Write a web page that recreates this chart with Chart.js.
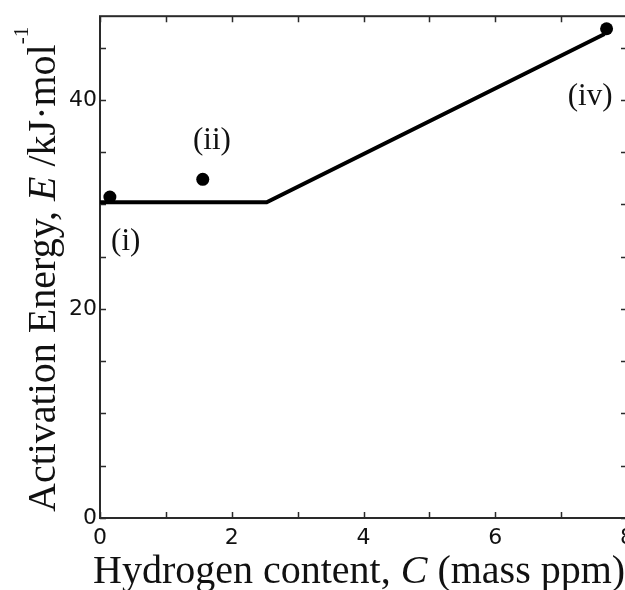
<!DOCTYPE html>
<html>
<head>
<meta charset="utf-8">
<script src="https://cdn.jsdelivr.net/npm/chart.js@4/dist/chart.umd.min.js"></script>
<style>
  html, body { margin: 0; padding: 0; background: #fff; overflow: hidden; }
  #wrap { position: relative; width: 645px; height: 590px; }
</style>
</head>
<body>
<div id="wrap"><canvas id="c"></canvas></div>
<script>
// Measured samples
const hydrogenContent = [0.15, 1.56, 7.69];      // C, mass ppm
const activationEnergy = [30.7, 32.4, 46.8];     // E, kJ/mol
const sampleNames = ['(i)', '(ii)', '(iv)'];
const nameAtC = [0.39, 1.70, 7.44];
const nameAtE = [26.4, 36.1, 40.3];

// Piecewise trend line
const trendContent = [0, 2.53, 7.66];
const trendEnergy = [30.2, 30.2, 46.3];

// Axis ranges and labelled ticks
const xRange = [0, 8];
const yRange = [0, 48];
const xLabelled = [0, 2, 4, 6, 8];
const yLabelled = [0, 20, 40];

const SERIF = '"Liberation Serif", "Times New Roman", serif';
const SANS = '"DejaVu Sans", Arial, sans-serif';

const toPoints = (xs, ys) => xs.map((v, i) => ({ x: v, y: ys[i] }));

// Frame on all four sides with inward ticks
const framePlugin = {
  id: 'frame',
  beforeDatasetsDraw(chart) {
    const { ctx, chartArea: a, scales: { x, y } } = chart;
    ctx.save();
    ctx.strokeStyle = '#2a2a2a';
    ctx.lineWidth = 2;
    ctx.strokeRect(a.left, a.top, a.right - a.left, a.bottom - a.top);
    ctx.lineWidth = 1.5;
    ctx.beginPath();
    x.ticks.forEach(t => {
      if (!Number.isInteger(t.value)) return;
      const px = Math.round(x.getPixelForValue(t.value)) + 0.5;
      ctx.moveTo(px, a.bottom); ctx.lineTo(px, a.bottom - 6);
      ctx.moveTo(px, a.top); ctx.lineTo(px, a.top + 6);
    });
    y.ticks.forEach(t => {
      if (t.value % 5 !== 0) return;
      const py = Math.round(y.getPixelForValue(t.value)) + 0.5;
      ctx.moveTo(a.left, py); ctx.lineTo(a.left + 6, py);
      ctx.moveTo(a.right, py); ctx.lineTo(a.right - 6, py);
    });
    ctx.stroke();
    ctx.restore();
  }
};

// Sample names and axis titles with mixed italic / superscript text
const textPlugin = {
  id: 'texts',
  afterDraw(chart) {
    const { ctx, scales: { x, y } } = chart;
    ctx.save();
    ctx.fillStyle = '#111';

    ctx.font = '31px ' + SERIF;
    ctx.textAlign = 'center';
    ctx.textBaseline = 'middle';
    sampleNames.forEach((s, i) => {
      ctx.fillText(s, x.getPixelForValue(nameAtC[i]), y.getPixelForValue(nameAtE[i]));
    });

    ctx.textAlign = 'left';
    ctx.textBaseline = 'alphabetic';
    const drawRuns = (runs, x0, y0) => {
      let cx = x0;
      runs.forEach(r => {
        ctx.font = r.font;
        ctx.fillText(r.text, cx, y0 - (r.rise || 0));
        cx += ctx.measureText(r.text).width;
      });
    };

    // x-axis title
    drawRuns([
      { text: 'Hydrogen content, ', font: '40px ' + SERIF },
      { text: 'C', font: 'italic 40px ' + SERIF },
      { text: ' (mass ppm)', font: '40px ' + SERIF }
    ], 93, 583);

    // y-axis title (rotated)
    ctx.translate(55, 512);
    ctx.rotate(-Math.PI / 2);
    drawRuns([
      { text: 'Activation Energy, ', font: '40px ' + SERIF },
      { text: 'E', font: 'italic 40px ' + SERIF },
      { text: ' /kJ\u00b7mol', font: '40px ' + SERIF },
      { text: '-1', font: '21px ' + SERIF, rise: 27 }
    ], 0, 0);
    ctx.restore();
  }
};

new Chart(document.getElementById('c'), {
  type: 'scatter',
  data: {
    datasets: [
      {
        label: 'trend',
        data: toPoints(trendContent, trendEnergy),
        showLine: true,
        borderColor: '#000',
        borderWidth: 4,
        pointRadius: 0,
        fill: false,
        tension: 0,
        borderJoinStyle: 'miter'
      },
      {
        label: 'samples',
        data: toPoints(hydrogenContent, activationEnergy),
        showLine: false,
        pointRadius: 6.5,
        pointBackgroundColor: '#000',
        pointBorderColor: '#000',
        pointBorderWidth: 0
      }
    ]
  },
  options: {
    responsive: true,
    maintainAspectRatio: false,
    animation: false,
    events: [],
    layout: { padding: { top: 12, right: 18, left: 0, bottom: 0 } },
    plugins: { legend: { display: false }, tooltip: { enabled: false }, title: { display: false } },
    scales: {
      x: {
        type: 'linear',
        min: xRange[0], max: xRange[1],
        grid: { display: false, drawTicks: false },
        border: { display: false },
        afterFit(s) { s.height = 72; },
        ticks: {
          stepSize: 1,
          padding: 7,
          maxRotation: 0,
          autoSkip: false,
          color: '#111',
          font: { family: SANS, size: 22 },
          callback: v => xLabelled.includes(v) ? String(v) : ''
        }
      },
      y: {
        type: 'linear',
        min: yRange[0], max: yRange[1],
        grid: { display: false, drawTicks: false },
        border: { display: false },
        afterFit(s) { s.width = 100; },
        ticks: {
          stepSize: 5,
          padding: 3,
          autoSkip: false,
          color: '#111',
          font: { family: SANS, size: 22 },
          callback: v => yLabelled.includes(v) ? String(v) : ''
        }
      }
    }
  },
  plugins: [framePlugin, textPlugin]
});
</script>
</body>
</html>
